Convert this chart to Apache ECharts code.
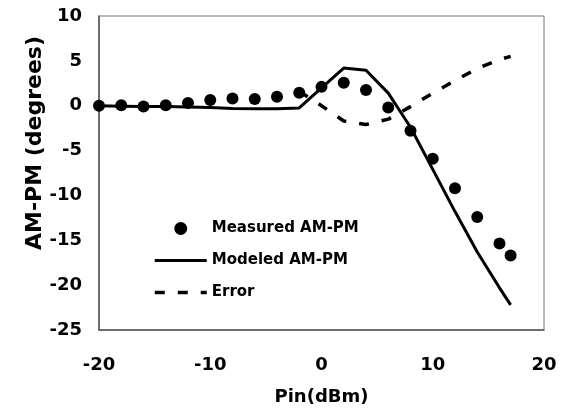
<!DOCTYPE html>
<html>
<head>
<meta charset="utf-8">
<script src="https://cdn.jsdelivr.net/npm/echarts@6/dist/echarts.min.js"></script>
<style>
html,body{margin:0;padding:0;background:#fff;}
#chart{width:565px;height:411px;}
</style>
</head>
<body>
<div id="chart"></div>
<script>
// Data
const pinMeasured = [-20, -18, -16, -14, -12, -10, -8, -6, -4, -2, 0, 2, 4, 6, 8, 10, 12, 14, 16, 17];
const measuredAMPM = [0, 0.05, -0.1, 0.05, 0.3, 0.65, 0.8, 0.75, 1.0, 1.45, 2.1, 2.55, 1.75, -0.2, -2.8, -5.9, -9.2, -12.4, -15.35, -16.7];
const pinModeled = [-20, -18, -16, -14, -12, -10, -8, -6, -4, -2, 0, 2, 4, 6, 8, 10, 12, 14, 16, 17];
const modeledAMPM = [0, -0.05, -0.1, -0.1, -0.15, -0.2, -0.3, -0.35, -0.35, -0.25, 2.0, 4.2, 3.95, 1.4, -2.4, -7.1, -11.8, -16.3, -20.3, -22.2];
const pinError = [-2, 0, 2, 4, 6, 8, 10, 12, 14, 16, 17];
const errorAMPM = [1.6, 0.0, -1.7, -2.1, -1.5, -0.1, 1.4, 2.8, 4.15, 5.15, 5.5];
const xTicks = { min: -20, max: 20, interval: 10 };
const yTicks = { min: -25, max: 10, interval: 5 };
const seriesNames = ['Measured AM-PM', 'Modeled AM-PM', 'Error'];
const xTitle = 'Pin(dBm)';
const yTitle = 'AM-PM (degrees)';

const zip = (xs, ys) => xs.map((x, i) => [x, ys[i]]);
const FONT = '"DejaVu Sans", sans-serif';

const chart = echarts.init(document.getElementById('chart'), null, { renderer: 'canvas' });
chart.setOption({
  animation: false,
  backgroundColor: '#fff',
  grid: { left: 99, right: 21, top: 16, bottom: 80, show: true, borderColor: '#777', borderWidth: 1, backgroundColor: 'transparent' },
  xAxis: {
    type: 'value', min: xTicks.min, max: xTicks.max, interval: xTicks.interval,
    name: xTitle, nameLocation: 'middle', nameGap: 58,
    nameTextStyle: { fontFamily: FONT, fontWeight: 'bold', fontSize: 18, color: '#000', verticalAlign: 'top' },
    axisLine: { show: true, onZero: false, lineStyle: { color: '#555', width: 1.5 } },
    axisTick: { show: false },
    splitLine: { show: false },
    axisLabel: { margin: 26, fontFamily: FONT, fontWeight: 'bold', fontSize: 18, color: '#000' }
  },
  yAxis: {
    type: 'value', min: yTicks.min, max: yTicks.max, interval: yTicks.interval,
    axisLine: { show: true, onZero: false, lineStyle: { color: '#555', width: 1.5 } },
    axisTick: { show: false },
    splitLine: { show: false },
    axisLabel: { margin: 17, fontFamily: FONT, fontWeight: 'bold', fontSize: 18, color: '#000' }
  },
  graphic: [{
    type: 'text', x: 35, y: 143, rotation: Math.PI / 2,
    style: { text: yTitle, fontFamily: FONT, fontWeight: 'bold', fontSize: 22, fill: '#000', align: 'center', verticalAlign: 'middle' }
  }],
  legend: {
    orient: 'vertical', left: 153, top: 221, padding: 0, itemWidth: 52, itemHeight: 13, itemGap: 17,
    data: [
      { name: seriesNames[0] },
      { name: seriesNames[1], itemStyle: { opacity: 0 }, lineStyle: { width: 3 } },
      { name: seriesNames[2], itemStyle: { opacity: 0 }, lineStyle: { width: 3.5 } }
    ],
    textStyle: { fontFamily: FONT, fontWeight: 'bold', fontSize: 15, color: '#000' }
  },
  series: [
    {
      name: seriesNames[1], type: 'line', data: zip(pinModeled, modeledAMPM),
      symbol: 'none', z: 2,
      lineStyle: { color: '#000', width: 3 }, itemStyle: { color: '#000' }
    },
    {
      name: seriesNames[2], type: 'line', data: zip(pinError, errorAMPM),
      symbol: 'none', z: 2,
      lineStyle: { color: '#000', width: 3.5, type: [10, 13] }, itemStyle: { color: '#000' }
    },
    {
      name: seriesNames[0], type: 'scatter', data: zip(pinMeasured, measuredAMPM),
      symbol: 'circle', symbolSize: 12, z: 3,
      itemStyle: { color: '#000', opacity: 1 }
    }
  ]
});
</script>
</body>
</html>
